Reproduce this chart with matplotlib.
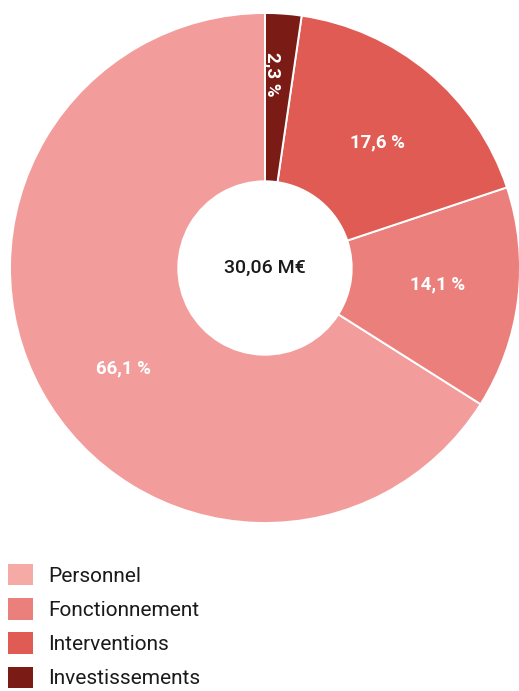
import matplotlib
matplotlib.use("Agg")
import matplotlib.pyplot as plt
from matplotlib.patches import Patch
import numpy as np

# Budget breakdown (legend order)
categories = ["Personnel", "Fonctionnement", "Interventions", "Investissements"]
shares = [66.1, 14.1, 17.6, 2.3]
share_labels = ["66,1 %", "14,1 %", "17,6 %", "2,3 %"]
total_label = "30,06 M€"

COLORS = ["#f29d9b", "#eb7f7c", "#e05b53", "#7a1b15"]
# label placement around each wedge: (radius, angle offset in degrees, rotation)
LABEL_POS = [(0.68, 6.5, 0), (0.68, 1.5, 0), (0.66, -2.0, 0), (0.76, 2.0, -90)]

plt.rcParams["font.family"] = ["Roboto", "DejaVu Sans"]

W, H = 519, 691
fig = plt.figure(figsize=(W / 100, H / 100), dpi=100)

# donut: centre (265, 268) px, outer radius 255 px
cx, cy, R = 265, 268, 255
ax = fig.add_axes([(cx - R) / W, (H - cy - R) / H, 2 * R / W, 2 * R / H])

wedges, _ = ax.pie(
    shares,
    colors=COLORS,
    startangle=90,
    counterclock=True,
    radius=1.0,
    wedgeprops=dict(width=0.66, edgecolor="white", linewidth=1.4),
)
ax.set_xlim(-1, 1)
ax.set_ylim(-1, 1)
ax.set_aspect("equal")
ax.axis("off")
for w in wedges:
    w.set_clip_on(False)

for w, lab, (r, off, rot) in zip(wedges, share_labels, LABEL_POS):
    mid = np.deg2rad((w.theta1 + w.theta2) / 2 + off)
    ax.text(r * np.cos(mid), r * np.sin(mid), lab, ha="center", va="center",
            color="white", fontsize=13.5, fontweight="bold", rotation=rot)

ax.text(0, 0, total_label, ha="center", va="center", color="#1a1a1a",
        fontsize=14, fontweight="medium")

handles = [Patch(facecolor=c, edgecolor="none") for c in COLORS]
handles[0] = Patch(facecolor="#f5aaa5", edgecolor="none")
fig.legend(handles, categories, loc="upper left",
           bbox_to_anchor=(8 / W, 1 - 564 / H), frameon=False,
           fontsize=15, handlelength=1.2, handleheight=1.2,
           handletextpad=0.72, labelspacing=0.6, borderpad=0,
           borderaxespad=0, labelcolor="#1a1a1a")

fig.savefig("out.png", dpi=100)
